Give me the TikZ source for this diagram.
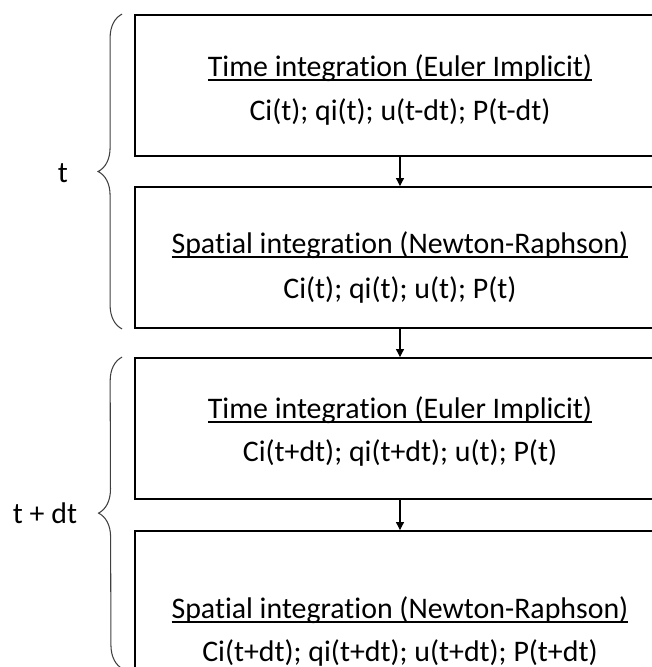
\documentclass[tikz,border=0pt]{standalone}
\usepackage{fontspec}
\setmainfont{Carlito}[Ligatures=CommonOff]
\usepackage{tikz}
\usetikzlibrary{arrows.meta,calc,decorations.pathreplacing}

\newsavebox{\ulinbox}
\newcommand{\ulin}[1]{\sbox{\ulinbox}{#1}\rlap{\rule[-2.3pt]{\wd\ulinbox}{0.75pt}}\usebox{\ulinbox}}

\tikzset{
    stepbox/.style={draw, line width=1.1pt, minimum width=10.6cm, minimum height=2.82cm, inner sep=0pt},
    boxtext/.style={anchor=base, inner sep=0pt, font=\fontsize{17}{20}\selectfont},
    flow/.style={-{Triangle[length=4.5pt,width=4.5pt]}, line width=0.6pt},
    timebrace/.style={decorate, decoration={brace, amplitude=0.48cm}, line width=0.6pt, black!75},
}

\begin{document}
\begin{tikzpicture}[x=0.02cm, y=-0.02cm]
    \useasboundingbox (0,0) rectangle (652,667);
    \clip (0,0) rectangle (652,667);
    % step boxes
    \node[stepbox] (time1) at (400,85.5) {};
    \node[stepbox] (space1) at (400,257.5) {};
    \node[stepbox] (time2) at (400,428.5) {};
    \node[stepbox, minimum height=3.98cm] (space2) at (400,630.5) {};
    % texts
    \node[boxtext] (time1title) at ($(time1.center)+(0,-9)$) {\ulin{Time integration (Euler Implicit)}};
    \node[boxtext] (time1vars) at ($(time1.center)+(0,35)$) {Ci(t); qi(t); u(t-dt); P(t-dt)};
    \node[boxtext] (space1title) at ($(space1.center)+(0,-4)$) {\ulin{Spatial integration (Newton-Raphson)}};
    \node[boxtext] (space1vars) at ($(space1.center)+(0,41)$) {Ci(t); qi(t); u(t); P(t)};
    \node[boxtext] (time2title) at ($(time2.center)+(0,-10)$) {\ulin{Time integration (Euler Implicit)}};
    \node[boxtext] (time2vars) at ($(time2.center)+(0,33)$) {Ci(t+dt); qi(t+dt); u(t); P(t)};
    \node[boxtext] (space2title) at ($(space2.center)+(0,-12)$) {\ulin{Spatial integration (Newton-Raphson)}};
    \node[boxtext] (space2vars) at ($(space2.center)+(0,31)$) {Ci(t+dt); qi(t+dt); u(t+dt); P(t+dt)};
    % arrows
    \draw[flow] (time1.south) -- (space1.north);
    \draw[flow] (space1.south) -- (time2.north);
    \draw[flow] (time2.south) -- (space2.north);
    % time steps
    \coordinate (step2end) at (123,669);
    \draw[timebrace] ($(space1.south west)+(-12,0)$) -- ($(time1.north west)+(-12,0)$);
    \draw[timebrace] (step2end) -- ($(time2.north west)+(-12,0)$);
    \node[boxtext] (step1) at (63,182) {t};
    \node[boxtext] (step2) at (45,523) {t + dt};
\end{tikzpicture}
\end{document}
